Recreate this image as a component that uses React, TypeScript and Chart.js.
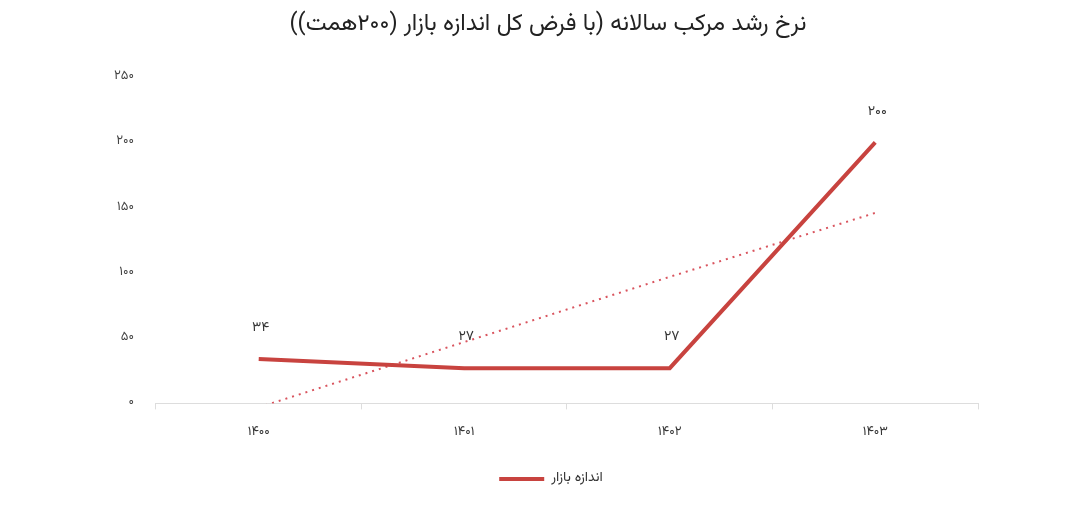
import { useRef, useEffect } from 'react'
import { Chart, registerables } from 'chart.js'

Chart.register(...registerables)

const years = ['1400', '1401', '1402', '1403']
const marketSize = [34, 27, 27, 200]
const trendValues = [-3, 47, 97, 146]
const yTicks = [0, 50, 100, 150, 200, 250]

const TITLE = 'نرخ رشد مرکب سالانه (با فرض کل اندازه بازار (۲۰۰همت))'
const SERIES_LABEL = 'اندازه بازار'
const FONT = "Vazirmatn, 'Noto Sans Arabic', 'DejaVu Sans', sans-serif"

const faDigits = (v: string | number) =>
  String(v).replace(/[0-9]/g, (d) => '۰۱۲۳۴۵۶۷۸۹'[Number(d)])

const valueLabels = {
  id: 'valueLabels',
  afterDatasetsDraw(chart: Chart) {
    const { ctx } = chart
    const meta = chart.getDatasetMeta(0)
    ctx.save()
    ctx.font = `14px ${FONT}`
    ctx.fillStyle = '#333'
    ctx.textAlign = 'center'
    ctx.textBaseline = 'middle'
    meta.data.forEach((pt, i) => {
      ctx.fillText(faDigits(marketSize[i]), pt.x + 2, pt.y - 30)
    })
    ctx.restore()
  },
}

// the title and legend sit a little right of the plot centre in the original
const nudgeBoxes = {
  id: 'nudgeBoxes',
  afterLayout(chart: any) {
    const shift = (box: any, dx: number) => {
      if (!box) return
      box.left += dx
      box.right += dx
    }
    shift(chart.titleBlock, 13)
    shift(chart.legend, 16)
  },
}

export default function App() {
  const canvasRef = useRef<HTMLCanvasElement>(null)

  useEffect(() => {
    if (!canvasRef.current) return
    const ctx = canvasRef.current.getContext('2d')
    if (!ctx) return

    const chart = new Chart(ctx, {
      type: 'line',
      data: {
        labels: years,
        datasets: [
          {
            label: SERIES_LABEL,
            data: marketSize,
            borderColor: '#c8433f',
            backgroundColor: '#c8433f',
            borderWidth: 4,
            pointRadius: 0,
            tension: 0,
          },
          {
            label: 'trend',
            data: trendValues,
            borderColor: '#d9545e',
            borderWidth: 2,
            borderDash: [2, 5],
            pointRadius: 0,
            tension: 0,
          },
        ],
      },
      options: {
        animation: false,
        responsive: false,
        layout: { padding: { left: 92, right: 102, top: 0, bottom: 27 } },
        plugins: {
          title: {
            display: true,
            text: TITLE,
            color: '#222',
            font: { family: FONT, size: 23.5, weight: 'normal' },
            padding: { top: 12, bottom: 37 },
          },
          legend: {
            position: 'bottom',
            labels: {
              color: '#333',
              font: { family: FONT, size: 14 },
              boxWidth: 45,
              boxHeight: 4,
              padding: 15,
              filter: (item) => item.datasetIndex === 0,
              generateLabels: (c) =>
                Chart.defaults.plugins.legend.labels
                  .generateLabels(c)
                  .map((l) => ({ ...l, lineWidth: 0 })),
            },
          },
          tooltip: { enabled: false },
        },
        scales: {
          x: {
            offset: true,
            grid: { offset: true, drawOnChartArea: false, tickLength: 6, color: '#ddd' },
            border: { color: '#ddd' },
            ticks: {
              color: '#333',
              font: { family: FONT, size: 13 },
              padding: 16,
              callback: (_v, i) => faDigits(years[i]),
            },
          },
          y: {
            min: yTicks[0],
            max: yTicks[yTicks.length - 1],
            afterBuildTicks: (axis) => {
              axis.ticks = yTicks.map((v) => ({ value: v }))
            },
            grid: { display: false, drawTicks: false },
            border: { display: false },
            ticks: {
              color: '#444',
              font: { family: FONT, size: 13 },
              padding: 22,
              callback: (v) => faDigits(v),
            },
          },
        },
      },
      plugins: [valueLabels, nudgeBoxes],
    })

    return () => { chart.destroy() }
  }, [])

  return (
    <div style={{ position: 'fixed', left: 0, top: 0, width: 1080, height: 523, background: '#fff' }}>
      <canvas ref={canvasRef} width={1080} height={523} style={{ direction: 'rtl' }} />
    </div>
  )
}
